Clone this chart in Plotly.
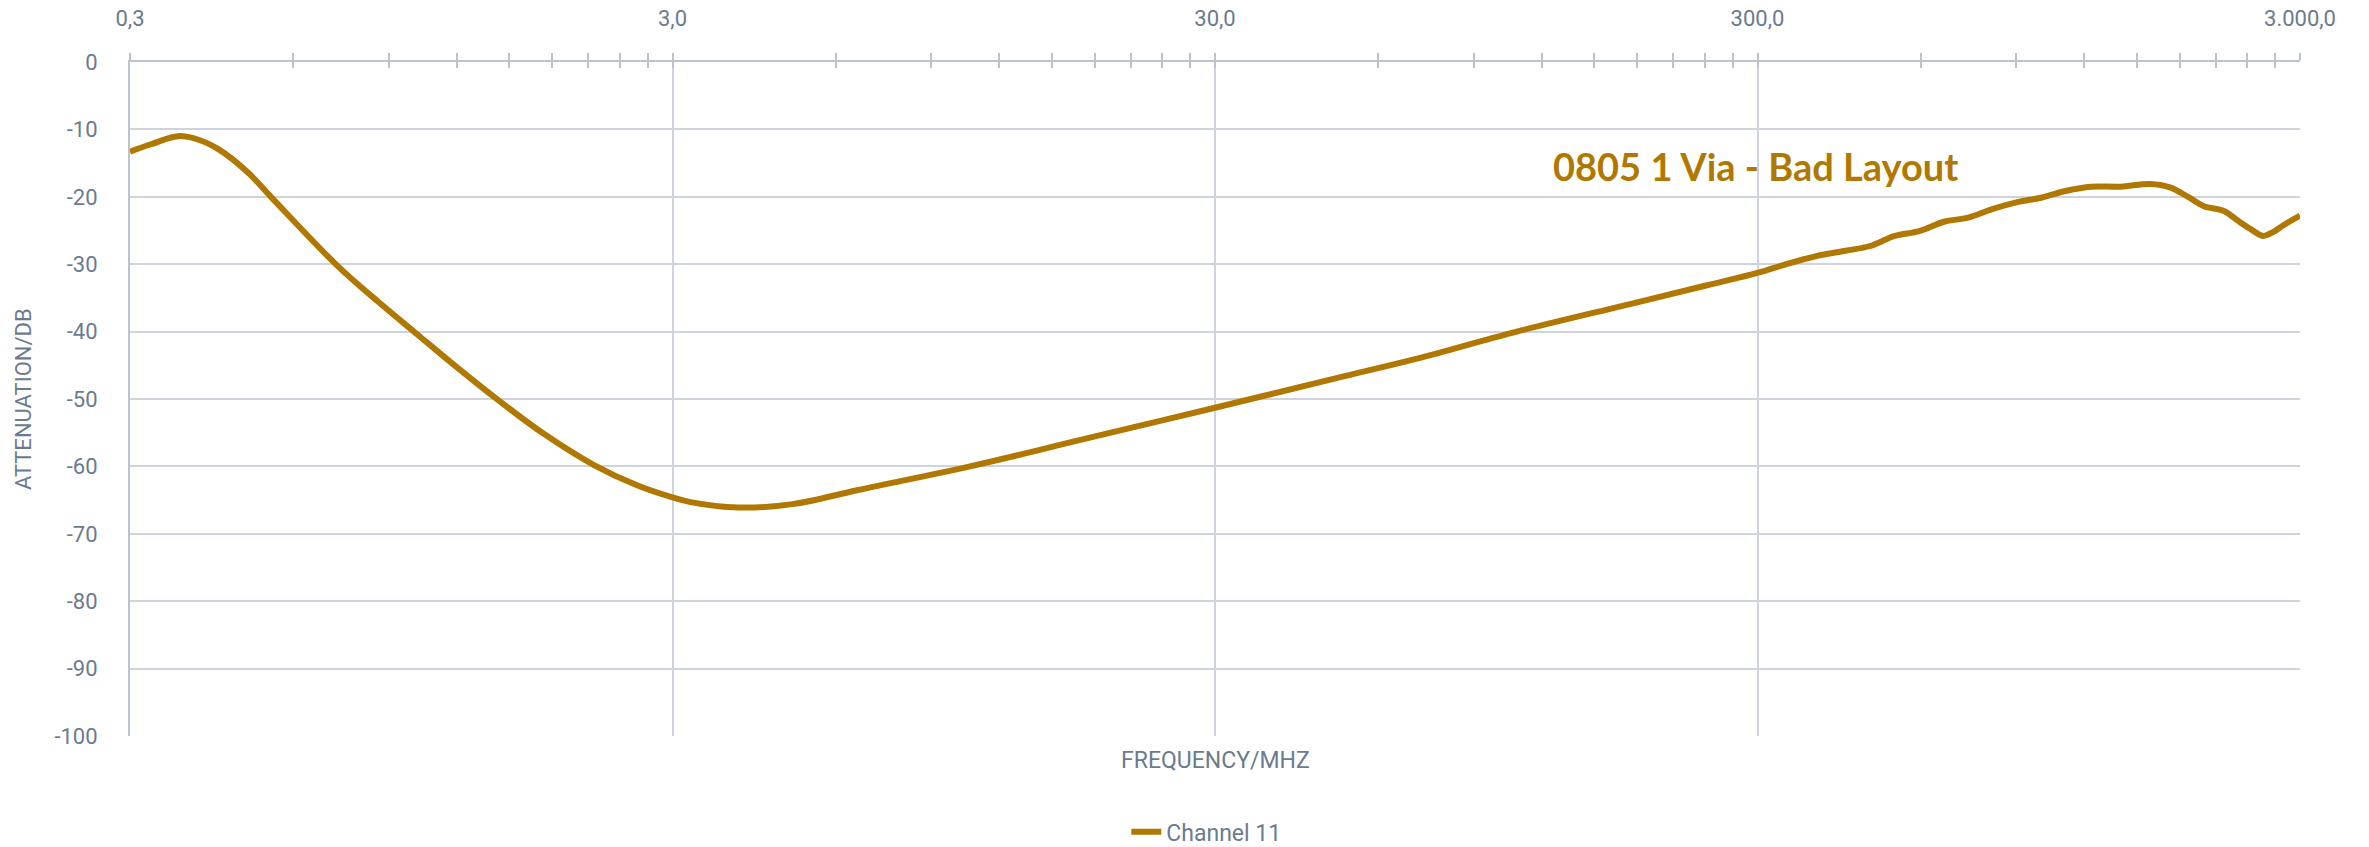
import plotly.graph_objects as go

# Data
freq_mhz = [0.3, 0.328, 0.368, 0.400, 0.438, 0.495, 0.550, 0.723, 0.867, 1.008, 1.21,
            1.428, 1.74, 2.15, 2.58, 3.0, 3.24, 3.96, 5.0, 6.6, 10.6, 17.1, 30, 52,
            70.7, 108, 177, 240, 300, 339, 385, 436, 484, 537, 596, 662, 733, 815, 904,
            1004, 1114, 1236, 1401, 1587, 1728, 1873, 1996, 2172, 2310, 2434, 2564,
            2680, 2787, 3000]
atten_db = [-13.3, -12.2, -11.0, -11.5, -13.0, -16.4, -20.3, -30.2, -35.8, -40.2, -45.5,
            -50.1, -55.2, -59.8, -62.8, -64.6, -65.3, -66.1, -65.6, -63.5, -60.0, -56.0,
            -51.3, -46.6, -44.0, -40.0, -35.8, -33.2, -31.3, -30.0, -28.8, -28.0, -27.3,
            -25.8, -25.1, -23.7, -23.1, -21.8, -20.8, -20.1, -19.1, -18.5, -18.5, -18.1,
            -18.6, -20.1, -21.4, -22.1, -23.6, -24.8, -25.8, -25.2, -24.3, -22.8]

x_major = [0.3, 3, 30, 300, 3000]
x_major_text = ["0,3", "3,0", "30,0", "300,0", "3.000,0"]
x_minor = [m * k for m in [0.3, 3, 30, 300] for k in range(2, 10)]
y_ticks = [0, -10, -20, -30, -40, -50, -60, -70, -80, -90, -100]
y_text = ["0", "-10", "-20", "-30", "-40", "-50", "-60", "-70", "-80", "-90", "-100"]

LINE = "#B07800"
GRID = "#CFD4DC"
AXIS = "#BCC3CD"
TXT = "#6B7B8F"
FONT = "Roboto"

fig = go.Figure()
fig.add_trace(go.Scatter(
    x=freq_mhz, y=atten_db, mode="lines", name="Channel 11",
    line=dict(color=LINE, width=6, shape="spline", smoothing=1.0),
    xaxis="x", yaxis="y"))
# invisible helper trace so the second (overlay) x axis is drawn
fig.add_trace(go.Scatter(x=[0.3, 3000], y=[None, None], xaxis="x2", yaxis="y",
                         showlegend=False, hoverinfo="skip", mode="lines"))

fig.update_layout(
    width=2369, height=847,
    margin=dict(l=130, r=69, t=62, b=111, autoexpand=False),
    paper_bgcolor="white", plot_bgcolor="white",
    font=dict(family=FONT, color=TXT, size=22),
    xaxis=dict(
        type="log", range=[-0.5228787, 3.4771213], side="top",
        tickmode="array", tickvals=x_major, ticktext=x_major_text,
        showgrid=True, gridcolor=GRID, gridwidth=2,
        showline=True, linecolor=AXIS, linewidth=2, mirror=False,
        ticks="outside", ticklen=7, tickcolor=AXIS, tickwidth=2,
        ticklabelstandoff=18,
        tickfont=dict(size=22, color=TXT, family=FONT),
        minor=dict(tickmode="array", tickvals=x_minor, ticks="outside", ticklen=7,
                   tickcolor=AXIS, tickwidth=2, showgrid=False),
        zeroline=False,
    ),
    xaxis2=dict(
        type="log", range=[-0.5228787, 3.4771213], side="top", overlaying="x",
        anchor="y", tickmode="array", tickvals=x_major + x_minor,
        showticklabels=False, showgrid=False, showline=False,
        ticks="inside", ticklen=6, tickcolor=AXIS, tickwidth=2, zeroline=False,
    ),
    yaxis=dict(
        range=[-100, 0], tickmode="array", tickvals=y_ticks, ticktext=y_text,
        showgrid=True, gridcolor=GRID, gridwidth=2,
        showline=True, linecolor=AXIS, linewidth=2,
        ticks="", ticklabelstandoff=26,
        tickfont=dict(size=22, color=TXT, family=FONT),
        zeroline=False,
    ),
    showlegend=True,
    legend=dict(orientation="h", x=0.496, xanchor="center", y=-0.142, yanchor="middle",
                font=dict(size=23, color=TXT, family=FONT)),
    annotations=[
        dict(text="FREQUENCY/MHZ", x=0.5, y=-0.036, xref="paper", yref="paper",
             showarrow=False, xanchor="center", yanchor="middle",
             font=dict(size=23, color=TXT, family=FONT)),
        dict(text="ATTENUATION/DB", x=-0.0493, y=0.5, xref="paper", yref="paper",
             showarrow=False, textangle=-90, xanchor="center", yanchor="middle",
             font=dict(size=22, color=TXT, family=FONT)),
        dict(text="<b>0805 1 Via - Bad Layout</b>", x=0.655, y=0.846, xref="paper",
             yref="paper", showarrow=False, xanchor="left", yanchor="middle",
             font=dict(size=38, color=LINE, family="Lato")),
    ],
)

fig.write_html("out.html")
